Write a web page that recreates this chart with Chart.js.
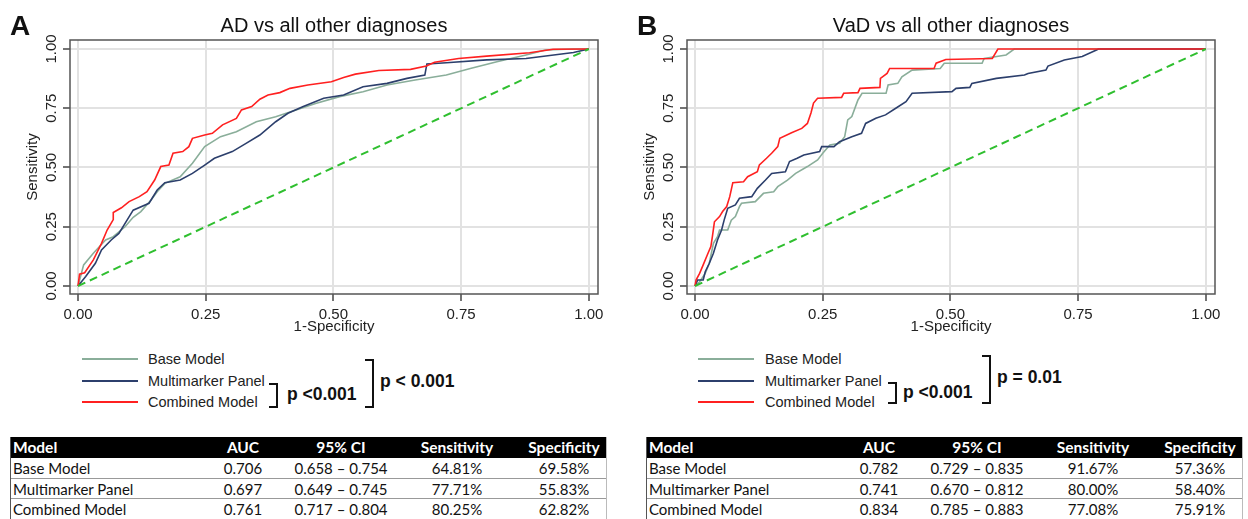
<!DOCTYPE html>
<html><head><meta charset="utf-8">
<script src="https://cdn.jsdelivr.net/npm/chart.js@4"></script>
<style>
html,body{margin:0;padding:0;background:#fff;}
body{width:1248px;height:519px;overflow:hidden;position:relative;font-family:"Liberation Sans",Arial,sans-serif;color:#111;}
.abs{position:absolute;white-space:nowrap;}
canvas{position:absolute;top:0;}
.letter{font-weight:bold;font-size:28px;line-height:32px;}
.ttl{font-size:20px;line-height:24px;text-align:center;color:#111;}
.lgline{height:2px;width:56px;}
.lgtxt{font-size:14.5px;line-height:18px;color:#222;}
.br{border:2.5px solid #111;border-left:none;width:6px;box-sizing:border-box;}
.pv{font-weight:bold;font-size:17.5px;line-height:21px;color:#111;}
.tbl{position:absolute;font-family:Lato,"Liberation Sans",sans-serif;font-size:15px;}
.tr{position:absolute;left:0;right:0;}
.td{position:absolute;top:0;white-space:nowrap;}
</style></head>
<body>
<canvas id="cA" width="620" height="340" style="left:0"></canvas>
<canvas id="cB" width="620" height="340" style="left:617px"></canvas>

<div class="abs letter" style="left:10px;top:10px;">A</div>
<div class="abs letter" style="left:637px;top:10px;">B</div>
<div class="abs ttl" style="left:70px;width:528px;top:13px;">AD vs all other diagnoses</div>
<div class="abs ttl" style="left:687px;width:528px;top:13px;">VaD vs all other diagnoses</div>

<div id="legA"></div>
<div id="legB"></div>
<div id="tblA"></div>
<div id="tblB"></div>

<script>
// ---------- data ----------
const tickVals = [0, 0.25, 0.5, 0.75, 1];
const seriesNames = ['Base Model', 'Multimarker Panel', 'Combined Model'];
const seriesColors = ['#8aae9a', '#2c3f6c', '#ff2020'];
const diagX = [0, 1];
const diagY = [0, 1];

// Panel A: AD vs all other diagnoses
const adBaseX = [0,0.011,0.03,0.054,0.069,0.092,0.108,0.123,0.143,0.155,0.17,0.2,0.224,0.248,0.279,0.31,0.349,0.387,0.418,0.465,0.512,0.558,0.605,0.66,0.721,0.768,0.822,0.877,0.915,0.97,1.0];
const adBaseY = [0,0.089,0.138,0.194,0.208,0.25,0.29,0.314,0.363,0.398,0.433,0.461,0.518,0.588,0.63,0.651,0.693,0.714,0.736,0.77,0.799,0.82,0.848,0.869,0.89,0.918,0.947,0.975,0.996,1.0,1.0];
const adMultiX = [0,0.015,0.034,0.046,0.065,0.08,0.096,0.108,0.139,0.155,0.17,0.2,0.224,0.248,0.267,0.302,0.329,0.356,0.387,0.411,0.441,0.481,0.52,0.558,0.605,0.644,0.679,0.683,0.721,0.80,0.877,0.97,1.0];
const adMultiY = [0,0.04,0.096,0.152,0.194,0.222,0.278,0.32,0.349,0.405,0.436,0.447,0.475,0.51,0.539,0.567,0.602,0.637,0.693,0.729,0.757,0.792,0.806,0.841,0.855,0.876,0.89,0.937,0.942,0.954,0.96,0.985,1.0];
const adCombX = [0,0.003,0.013,0.03,0.046,0.057,0.069,0.069,0.085,0.10,0.12,0.135,0.15,0.162,0.178,0.186,0.205,0.217,0.224,0.248,0.263,0.283,0.31,0.32,0.34,0.356,0.372,0.395,0.415,0.45,0.496,0.52,0.543,0.589,0.651,0.682,0.698,0.745,0.80,0.884,0.93,1.0];
const adCombY = [0,0.05,0.056,0.11,0.18,0.236,0.28,0.31,0.33,0.356,0.377,0.398,0.447,0.504,0.51,0.56,0.567,0.588,0.623,0.637,0.644,0.68,0.707,0.743,0.757,0.788,0.806,0.816,0.834,0.848,0.862,0.88,0.894,0.909,0.914,0.928,0.944,0.96,0.97,0.984,0.999,1.0];

// Panel B: VaD vs all other diagnoses
const vadBaseX = [0,0.009,0.02,0.028,0.036,0.044,0.048,0.064,0.071,0.079,0.087,0.091,0.118,0.134,0.154,0.162,0.181,0.197,0.22,0.24,0.25,0.264,0.283,0.293,0.299,0.307,0.319,0.327,0.374,0.378,0.397,0.405,0.425,0.48,0.488,0.562,0.566,0.609,0.625,1.0];
const vadBaseY = [0,0.018,0.053,0.096,0.18,0.208,0.236,0.236,0.278,0.293,0.335,0.349,0.356,0.391,0.398,0.419,0.447,0.475,0.504,0.532,0.56,0.595,0.602,0.63,0.701,0.715,0.785,0.813,0.813,0.848,0.855,0.883,0.911,0.918,0.94,0.94,0.96,0.975,1.0,1.0];
const vadMultiX = [0,0.005,0.016,0.02,0.028,0.036,0.044,0.052,0.057,0.064,0.079,0.087,0.111,0.122,0.138,0.15,0.177,0.185,0.2,0.213,0.244,0.248,0.272,0.283,0.307,0.326,0.334,0.354,0.373,0.393,0.413,0.425,0.503,0.511,0.538,0.542,0.59,0.645,0.652,0.687,0.691,0.723,0.758,0.786,0.79,1.0];
const vadMultiY = [0,0.025,0.025,0.06,0.096,0.138,0.194,0.236,0.278,0.328,0.342,0.37,0.377,0.412,0.447,0.475,0.482,0.525,0.539,0.553,0.567,0.588,0.588,0.609,0.63,0.644,0.686,0.708,0.722,0.75,0.778,0.813,0.82,0.834,0.838,0.855,0.876,0.89,0.897,0.911,0.928,0.954,0.968,0.996,1.0,1.0];
const vadCombX = [0,0.002,0.009,0.016,0.024,0.031,0.034,0.038,0.048,0.054,0.062,0.068,0.074,0.095,0.103,0.122,0.126,0.14,0.15,0.162,0.166,0.189,0.209,0.22,0.227,0.232,0.24,0.287,0.291,0.319,0.323,0.362,0.363,0.376,0.381,0.468,0.472,0.491,0.582,0.593,1.0];
const vadCombY = [0,0.025,0.053,0.089,0.131,0.166,0.208,0.271,0.293,0.314,0.335,0.377,0.436,0.44,0.461,0.482,0.511,0.539,0.56,0.588,0.623,0.647,0.665,0.686,0.73,0.772,0.792,0.796,0.813,0.816,0.834,0.838,0.876,0.897,0.918,0.918,0.94,0.956,0.96,1.0,1.0];

// Tables
const tblHeader = ['Model', 'AUC', '95% CI', 'Sensitivity', 'Specificity'];
const adAUC = [0.706, 0.697, 0.761];
const adCILow = [0.658, 0.649, 0.717];
const adCIHigh = [0.754, 0.745, 0.804];
const adSens = [64.81, 77.71, 80.25];
const adSpec = [69.58, 55.83, 62.82];
const vadAUC = [0.782, 0.741, 0.834];
const vadCILow = [0.729, 0.670, 0.785];
const vadCIHigh = [0.835, 0.812, 0.883];
const vadSens = [91.67, 80.00, 77.08];
const vadSpec = [57.36, 58.40, 75.91];

// p-value annotations
const adPInner = 'p <0.001', adPOuter = 'p < 0.001';
const vadPInner = 'p <0.001', vadPOuter = 'p = 0.01';

// ---------- chart ----------
const zip = (xs, ys) => xs.map((x, i) => ({x: x, y: ys[i]}));
const FONT = '"Liberation Sans", Arial, sans-serif';

const framePlugin = {
  id: 'frame',
  beforeDatasetsDraw(chart) {
    const {ctx, chartArea: a} = chart;
    ctx.save();
    ctx.strokeStyle = '#555';
    ctx.lineWidth = 1.5;
    ctx.strokeRect(a.left, a.top, a.right - a.left, a.bottom - a.top);
    ctx.restore();
  }
};

function makeChart(id, bx, by, mx, my, cx, cy) {
  const datasets = [
    {label: 'diag', data: zip(diagX, diagY), borderColor: '#2fbf2f', borderWidth: 2, borderDash: [8, 5], order: 0},
    {label: seriesNames[2], data: zip(cx, cy), borderColor: seriesColors[2], borderWidth: 1.6, order: 1},
    {label: seriesNames[1], data: zip(mx, my), borderColor: seriesColors[1], borderWidth: 1.6, order: 2},
    {label: seriesNames[0], data: zip(bx, by), borderColor: seriesColors[0], borderWidth: 1.6, order: 3}
  ];
  const gridCfg = {color: '#e2e2e2', lineWidth: 2, tickColor: '#444', tickLength: 7, tickWidth: 1.5, drawTicks: true};
  new Chart(document.getElementById(id), {
    type: 'line',
    data: {datasets},
    options: {
      responsive: false, animation: false, devicePixelRatio: 1,
      layout: {padding: {left: 24, top: 40, right: 22, bottom: 4}},
      plugins: {legend: {display: false}, tooltip: {enabled: false}, title: {display: false}},
      elements: {point: {radius: 0}, line: {tension: 0, fill: false}},
      scales: {
        x: {
          type: 'linear', min: -0.0157, max: 1.018,
          afterBuildTicks: s => { s.ticks = tickVals.map(v => ({value: v})); },
          afterFit: s => { s.height = 42; },
          ticks: {callback: v => Number(v).toFixed(2), font: {family: FONT, size: 15}, color: '#222', padding: 5, maxRotation: 0, autoSkip: false},
          grid: gridCfg,
          border: {display: false},
          title: {display: true, text: '1-Specificity', font: {family: FONT, size: 15}, color: '#222', padding: 0}
        },
        y: {
          type: 'linear', min: -0.0338, max: 1.038,
          afterBuildTicks: s => { s.ticks = tickVals.map(v => ({value: v})); },
          afterFit: s => { s.width = 46; },
          ticks: {callback: v => Number(v).toFixed(2), font: {family: FONT, size: 15}, color: '#222', padding: -3, minRotation: 90, maxRotation: 90, crossAlign: 'center', autoSkip: false},
          grid: gridCfg,
          border: {display: false},
          title: {display: true, text: 'Sensitivity', font: {family: FONT, size: 15}, color: '#222', padding: 0}
        }
      }
    },
    plugins: [framePlugin]
  });
}

makeChart('cA', adBaseX, adBaseY, adMultiX, adMultiY, adCombX, adCombY);
makeChart('cB', vadBaseX, vadBaseY, vadMultiX, vadMultiY, vadCombX, vadCombY);

// ---------- legends ----------
function legend(elId, lineLeft, textLeft, rowsY, br1, br2, pInner, pOuter) {
  const el = document.getElementById(elId);
  let h = '';
  seriesNames.forEach((n, i) => {
    h += `<div class="abs lgline" style="left:${lineLeft}px;top:${rowsY[i]-1}px;background:${seriesColors[i]}"></div>`;
    h += `<div class="abs lgtxt" style="left:${textLeft}px;top:${rowsY[i]-9}px">${n}</div>`;
  });
  h += `<div class="abs br" style="left:${br1.x}px;top:${br1.y0}px;height:${br1.y1-br1.y0}px;width:${br1.w}px"></div>`;
  h += `<div class="abs pv" style="left:${br1.tx}px;top:${br1.ty-11}px">${pInner}</div>`;
  h += `<div class="abs br" style="left:${br2.x}px;top:${br2.y0}px;height:${br2.y1-br2.y0}px;width:${br2.w}px"></div>`;
  h += `<div class="abs pv" style="left:${br2.tx}px;top:${br2.ty-11}px">${pOuter}</div>`;
  el.innerHTML = h;
}
legend('legA', 82, 148, [359, 381, 402], {x: 269, y0: 383, y1: 408, w: 9, tx: 287, ty: 395}, {x: 365, y0: 359, y1: 408, w: 9, tx: 380, ty: 382}, adPInner, adPOuter);
legend('legB', 698, 765, [359, 381, 402], {x: 888, y0: 382, y1: 404, w: 9, tx: 903, ty: 393}, {x: 982, y0: 355, y1: 404, w: 9, tx: 997, ty: 378}, vadPInner, vadPOuter);

// ---------- tables ----------
const colCenters = [null, 232, 330, 446, 553];
function table(elId, left, auc, lo, hi, sens, spec) {
  const el = document.getElementById(elId);
  const W = 597, top = 437, hH = 21, rH = 20.5;
  let h = `<div class="tbl" style="left:${left}px;top:${top}px;width:${W}px;height:${hH + 3*rH}px;border-left:1.5px solid #555;border-right:1px solid #bbb;box-sizing:border-box">`;
  h += `<div class="tr" style="top:0;height:${hH}px;background:#000;color:#fff;font-weight:bold;font-size:15.5px;line-height:${hH}px">`;
  tblHeader.forEach((t, i) => {
    if (i === 0) h += `<div class="td" style="left:2px">${t}</div>`;
    else h += `<div class="td" style="left:${colCenters[i]-60}px;width:120px;text-align:center">${t}</div>`;
  });
  h += `</div>`;
  seriesNames.forEach((n, r) => {
    const cells = [n, auc[r].toFixed(3), lo[r].toFixed(3) + ' \u2013 ' + hi[r].toFixed(3), sens[r].toFixed(2) + '%', spec[r].toFixed(2) + '%'];
    h += `<div class="tr" style="top:${hH + r*rH}px;height:${rH}px;line-height:${rH}px;color:#111;border-bottom:1.5px solid #999;box-sizing:border-box">`;
    cells.forEach((t, i) => {
      if (i === 0) h += `<div class="td" style="left:2px">${t}</div>`;
      else h += `<div class="td" style="left:${colCenters[i]-60}px;width:120px;text-align:center">${t}</div>`;
    });
    h += `</div>`;
  });
  h += `</div>`;
  el.innerHTML = h;
}
table('tblA', 10, adAUC, adCILow, adCIHigh, adSens, adSpec);
table('tblB', 646, vadAUC, vadCILow, vadCIHigh, vadSens, vadSpec);
</script>
</body></html>
